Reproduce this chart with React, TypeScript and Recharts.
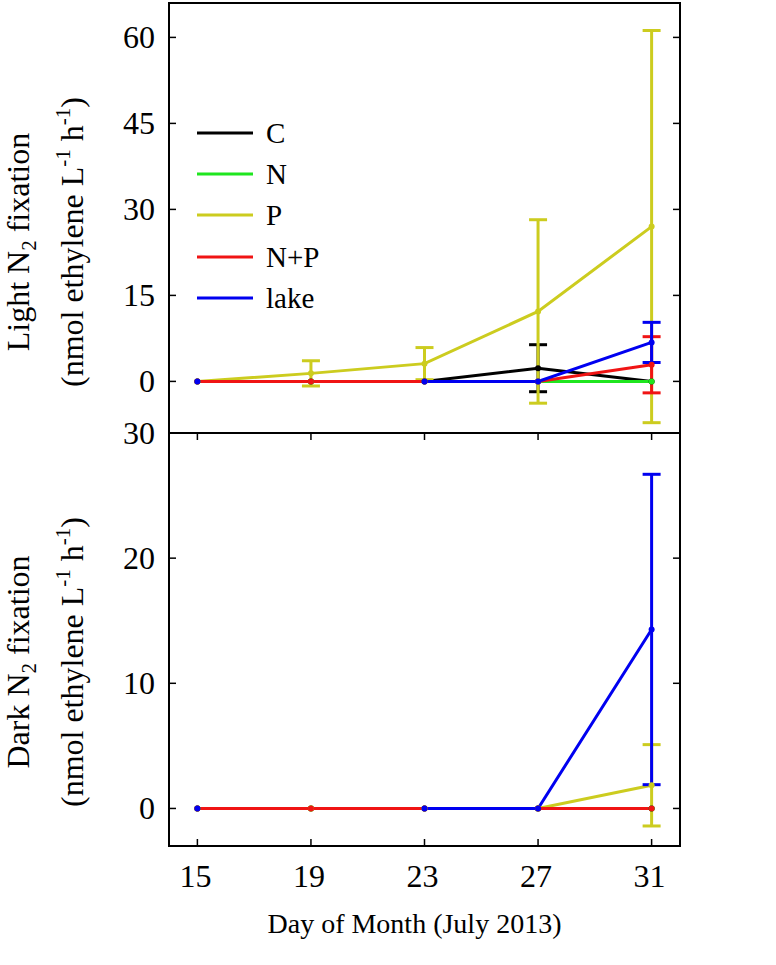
import React from "react";
import { ErrorBar, Legend, Line, LineChart, ReferenceArea, XAxis, YAxis } from "recharts";

const SERIF = "'Liberation Serif', 'Times New Roman', serif";

const DAYS = [15, 19, 23, 27, 31];
const SERIES_NAMES = ["C", "N", "P", "N+P", "lake"];
const SERIES_KEYS = ["c", "n", "p", "np", "lake"];
const SERIES_COLORS = ["#000000", "#1fe61f", "#cccc1f", "#f01414", "#0000f0"];

// light incubations (nmol ethylene L-1 h-1), null = no sample
const LIGHT_C = [0, 0, 0, 2.3, 0];
const LIGHT_C_ERR = [null, null, null, 4.1, null];
const LIGHT_N = [0, 0, 0, 0, 0];
const LIGHT_P = [0, 1.4, 3.1, 12.2, 27.0];
const LIGHT_P_ERR = [null, 2.2, 2.8, 16.0, 34.2];
const LIGHT_NP = [0, 0, 0, 0, 2.9];
const LIGHT_NP_ERR = [null, null, null, null, 4.9];
const LIGHT_LAKE = [0, null, 0, 0, 6.8];
const LIGHT_LAKE_ERR = [null, null, null, null, 3.5];

// dark incubations
const DARK_C = [0, 0, 0, 0, 0];
const DARK_N = [0, 0, 0, 0, 0];
const DARK_P = [0, 0, 0, 0, 1.85];
const DARK_P_ERR = [null, null, null, null, 3.25];
const DARK_NP = [0, 0, 0, 0, 0];
const DARK_LAKE = [0, null, 0, 0, 14.3];
const DARK_LAKE_ERR = [null, null, null, null, 12.4];

const LIGHT_TICKS = [0, 15, 30, 45, 60];
const DARK_TICKS = [0, 10, 20, 30];

const none = DAYS.map(() => null);

function buildRows(values: (number | null)[][], errors: (number | null)[][]) {
  return DAYS.map((day, i) => {
    const row: Record<string, number | null> = { day };
    SERIES_KEYS.forEach((k, s) => {
      row[k] = values[s][i];
      row[k + "Err"] = errors[s][i];
    });
    return row;
  });
}

const lightRows = buildRows(
  [LIGHT_C, LIGHT_N, LIGHT_P, LIGHT_NP, LIGHT_LAKE],
  [LIGHT_C_ERR, none, LIGHT_P_ERR, LIGHT_NP_ERR, LIGHT_LAKE_ERR]
);
const darkRows = buildRows(
  [DARK_C, DARK_N, DARK_P, DARK_NP, DARK_LAKE],
  [none, none, DARK_P_ERR, none, DARK_LAKE_ERR]
);

const CHART_W = 776;
const PLOT_LEFT = 169;
const PLOT_RIGHT = 680;
const PLOT_W = PLOT_RIGHT - PLOT_LEFT;
const TICK_LEN = 7;

function YTick(props: any) {
  const { x, y, payload } = props;
  return (
    <g>
      <line x1={x} x2={x + TICK_LEN} y1={y} y2={y} stroke="#000" strokeWidth={1.5} />
      <line x1={x + PLOT_W} x2={x + PLOT_W - TICK_LEN} y1={y} y2={y} stroke="#000" strokeWidth={1.5} />
      <text x={x - 14} y={y} dy={11} textAnchor="end" fontFamily={SERIF} fontSize={32} fill="#000">
        {payload.value}
      </text>
    </g>
  );
}

function XTick(props: any) {
  const { x, y, payload, plotH, showLabel } = props;
  return (
    <g>
      <line x1={x} x2={x} y1={y} y2={y - TICK_LEN} stroke="#000" strokeWidth={1.5} />
      <line x1={x} x2={x} y1={y - plotH} y2={y - plotH + TICK_LEN} stroke="#000" strokeWidth={1.5} />
      {showLabel ? (
        <text x={x - 2} y={y + 41} textAnchor="middle" fontFamily={SERIF} fontSize={32} fill="#000">
          {payload.value}
        </text>
      ) : null}
    </g>
  );
}

function YTitle({ kind, centerY }: { kind: string; centerY: number }) {
  return (
    <g fontFamily={SERIF} fontSize={32} fill="#000">
      <text transform={`translate(29, ${centerY}) rotate(-90)`} textAnchor="middle">
        {kind} N<tspan dy={7} fontSize={21}>2</tspan>
        <tspan dy={-7}>{"  fixation"}</tspan>
      </text>
      <text transform={`translate(83, ${centerY}) rotate(-90)`} textAnchor="middle">
        (nmol ethylene L<tspan dy={-13} fontSize={21}>-1</tspan>
        <tspan dy={13}> h</tspan>
        <tspan dy={-13} fontSize={21}>-1</tspan>
        <tspan dy={13}>)</tspan>
      </text>
    </g>
  );
}

function LegendBox(props: any) {
  const entries = [...(props.payload || [])].sort(
    (a: any, b: any) => SERIES_NAMES.indexOf(a.value) - SERIES_NAMES.indexOf(b.value)
  );
  return (
    <div>
      {entries.map((entry: any) => (
        <div key={entry.value} style={{ display: "flex", alignItems: "center", height: 41.3 }}>
          <svg width={56} height={6}>
            <line x1={0} x2={56} y1={3} y2={3} stroke={entry.color} strokeWidth={3} />
          </svg>
          <span style={{ marginLeft: 13, fontFamily: SERIF, fontSize: 29, lineHeight: "30px", color: "#000" }}>
            {entry.value}
          </span>
        </div>
      ))}
    </div>
  );
}

type PanelProps = {
  rows: Record<string, number | null>[];
  yDomain: [number, number];
  yTicks: number[];
  height: number;
  marginTop: number;
  marginBottom: number;
  xAxisHeight: number;
  plotH: number;
  kind: string;
  titleCenterY: number;
  bottomPanel?: boolean;
};

function Panel({
  rows,
  yDomain,
  yTicks,
  height,
  marginTop,
  marginBottom,
  xAxisHeight,
  plotH,
  kind,
  titleCenterY,
  bottomPanel,
}: PanelProps) {
  return (
    <LineChart
      width={CHART_W}
      height={height}
      data={rows}
      margin={{ top: marginTop, right: CHART_W - PLOT_RIGHT, left: 0, bottom: marginBottom }}
    >
      <XAxis
        type="number"
        dataKey="day"
        domain={[14, 32]}
        ticks={DAYS}
        height={xAxisHeight}
        axisLine={false}
        tickLine={false}
        tickSize={0}
        tickMargin={0}
        interval={0}
        tick={(p: any) => <XTick {...p} plotH={plotH} showLabel={!!bottomPanel} />}
        label={
          bottomPanel
            ? {
                content: (lp: any) => {
                  const vb = lp.viewBox || {};
                  return (
                    <text
                      x={vb.x + vb.width / 2 - 10}
                      y={vb.y + 87}
                      textAnchor="middle"
                      fontFamily={SERIF}
                      fontSize={28}
                      fill="#000"
                    >
                      Day of Month (July 2013)
                    </text>
                  );
                },
              }
            : undefined
        }
      />
      <YAxis
        type="number"
        domain={yDomain}
        ticks={yTicks}
        width={PLOT_LEFT}
        axisLine={false}
        tickLine={false}
        tickSize={0}
        tickMargin={0}
        interval={0}
        allowDataOverflow
        tick={(p: any) => <YTick {...p} />}
        label={{ content: () => <YTitle kind={kind} centerY={titleCenterY} /> }}
      />
      <ReferenceArea
        x1={14}
        x2={32}
        y1={yDomain[0]}
        y2={yDomain[1]}
        fill="none"
        fillOpacity={0}
        stroke="#000"
        strokeWidth={2}
        ifOverflow="visible"
      />
      {SERIES_KEYS.map((k, s) => (
        <Line
          key={k}
          type="linear"
          dataKey={k}
          name={SERIES_NAMES[s]}
          stroke={SERIES_COLORS[s]}
          strokeWidth={3}
          dot={{ r: 3, fill: SERIES_COLORS[s], stroke: SERIES_COLORS[s], strokeWidth: 0 }}
          activeDot={false}
          isAnimationActive={false}
        >
          <ErrorBar
            dataKey={k + "Err"}
            direction="y"
            width={9}
            strokeWidth={3}
            stroke={SERIES_COLORS[s]}
            isAnimationActive={false}
          />
        </Line>
      ))}
      {!bottomPanel ? (
        <Legend
          layout="vertical"
          align="center"
          verticalAlign="middle"
          content={(p: any) => <LegendBox {...p} />}
          wrapperStyle={{ left: 197, top: 112, width: 200, height: "auto" }}
        />
      ) : null}
    </LineChart>
  );
}

export default function App() {
  return (
    <div style={{ position: "absolute", left: 0, top: 0, width: 776, height: 965, background: "#fff" }}>
      <div style={{ position: "absolute", left: 0, top: 0 }}>
        <Panel
          rows={lightRows}
          yDomain={[-9, 66]}
          yTicks={LIGHT_TICKS}
          height={440}
          marginTop={3}
          marginBottom={7}
          xAxisHeight={0}
          plotH={430}
          kind="Light"
          titleCenterY={242}
        />
      </div>
      <div style={{ position: "absolute", left: 0, top: 413 }}>
        <Panel
          rows={darkRows}
          yDomain={[-3, 30]}
          yTicks={DARK_TICKS}
          height={552}
          marginTop={20}
          marginBottom={0}
          xAxisHeight={119}
          plotH={413}
          kind="Dark"
          titleCenterY={249}
          bottomPanel
        />
      </div>
    </div>
  );
}
